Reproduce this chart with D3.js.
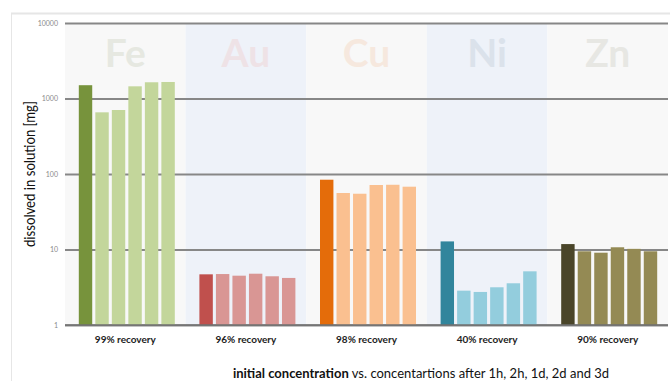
<!DOCTYPE html>
<html>
<head>
<meta charset="utf-8">
<script src="https://cdn.jsdelivr.net/npm/d3@7"></script>
<style>
  html, body { margin: 0; padding: 0; background: #fff; }
  svg { display: block; }
  text { font-family: Lato, "Open Sans", sans-serif; }
</style>
</head>
<body>
<svg id="chart" width="670" height="381"></svg>
<script>
// Metals and their recovery labels
const metals = ["Fe", "Au", "Cu", "Ni", "Zn"];
const recovery = ["99% recovery", "96% recovery", "98% recovery", "40% recovery", "90% recovery"];

// Sampling points: initial concentration, then 1h, 2h, 1d, 2d, 3d
const samples = ["initial", "1h", "2h", "1d", "2d", "3d"];

// Dissolved amount in solution [mg] per metal, in sample order
const feValues = [1500, 656, 704, 1450, 1640, 1655];
const auValues = [4.69, 4.73, 4.5, 4.78, 4.42, 4.2];
const cuValues = [84, 56, 54.8, 71.5, 72, 67.9];
const niValues = [12.8, 2.85, 2.74, 3.16, 3.57, 5.14];
const znValues = [11.8, 9.47, 9.07, 10.7, 10.2, 9.47];

// Y axis ticks
const yTicks = [1, 10, 100, 1000, 10000];

const seriesByMetal = { Fe: feValues, Au: auValues, Cu: cuValues, Ni: niValues, Zn: znValues };

const darkColor  = { Fe: "#77933c", Au: "#c0504d", Cu: "#e46c0a", Ni: "#31859c", Zn: "#4a4529" };
const lightColor = { Fe: "#c3d69b", Au: "#d99694", Cu: "#fac090", Ni: "#93cddd", Zn: "#948a54" };
const letterColor = { Fe: "#e6e8e1", Au: "#eee2e6", Cu: "#f6e8de", Ni: "#dbe2eb", Zn: "#e7e7e3" };
const bandColor = ["#f8f8f8", "#eef2f9"];

const svg = d3.select("#chart");
const W = 670, H = 381;
const m = { left: 65, right: 2, top: 23, bottom: 56 };

// Frame lines
svg.append("line").attr("x1", 11).attr("x2", W).attr("y1", 13.5).attr("y2", 13.5)
  .attr("stroke", "#e6e6e6").attr("stroke-width", 2);
svg.append("line").attr("x1", 11.5).attr("x2", 11.5).attr("y1", 13).attr("y2", H)
  .attr("stroke", "#e6e6e6").attr("stroke-width", 1);

const x = d3.scaleBand().domain(metals).range([m.left, W - m.right]).padding(0);
const y = d3.scaleLog().domain([1, 10000]).range([H - m.bottom, m.top]);

const step = 16, barW = 13;
const groupW = step * (samples.length - 1) + barW;
const xi = d3.scaleBand().domain(samples).range([0, groupW + (step - barW)]).paddingInner((step - barW) / step).paddingOuter(0);

// Alternating background bands
svg.append("g").selectAll("rect").data(metals).join("rect")
  .attr("x", d => x(d)).attr("width", x.bandwidth())
  .attr("y", y(10000)).attr("height", y(1) - y(10000))
  .attr("fill", (d, i) => bandColor[i % 2]);

// Large faded metal symbols
svg.append("g").selectAll("text").data(metals).join("text")
  .attr("x", d => x(d) + x.bandwidth() / 2)
  .attr("y", 67)
  .attr("text-anchor", "middle")
  .attr("font-size", 39).attr("font-weight", 700)
  .attr("fill", d => letterColor[d])
  .text(d => d);

// Gridlines and tick labels
const yAxis = d3.axisLeft(y).tickValues(yTicks).tickFormat(d3.format("d"))
  .tickSize(-(W - m.right - m.left)).tickPadding(7);
const gy = svg.append("g").attr("transform", `translate(${m.left},0)`).call(yAxis);
gy.select(".domain").remove();
gy.selectAll(".tick line").attr("stroke", "#878787").attr("stroke-width", 2);
gy.selectAll(".tick text").attr("fill", "#8a8a8a").attr("font-size", 7)
  .attr("font-family", "Liberation Serif, serif");

// Bars
const groups = svg.append("g").selectAll("g").data(metals).join("g")
  .attr("transform", d => `translate(${x(d) + (x.bandwidth() - groupW) / 2},0)`);
groups.selectAll("rect")
  .data(d => seriesByMetal[d].map((v, i) => ({ metal: d, sample: samples[i], value: v, i })))
  .join("rect")
  .attr("x", d => xi(d.sample))
  .attr("width", xi.bandwidth())
  .attr("y", d => y(d.value))
  .attr("height", d => y(1) - y(d.value))
  .attr("fill", d => d.i === 0 ? darkColor[d.metal] : lightColor[d.metal]);

// Baseline redrawn over bars
svg.append("line").attr("x1", m.left).attr("x2", W - m.right).attr("y1", y(1)).attr("y2", y(1))
  .attr("stroke", "#6f6f6f").attr("stroke-width", 1.5);

// Recovery labels under each group
svg.append("g").selectAll("text").data(metals).join("text")
  .attr("x", d => x(d) + x.bandwidth() / 2)
  .attr("y", 342.5)
  .attr("text-anchor", "middle")
  .attr("font-size", 10).attr("font-weight", 700).attr("fill", "#222")
  .text((d, i) => recovery[i]);

// Y axis title
svg.append("text")
  .attr("transform", `translate(35,174) rotate(-90)`)
  .attr("text-anchor", "middle")
  .attr("font-size", 15).attr("fill", "#111")
  .attr("textLength", 146).attr("lengthAdjust", "spacingAndGlyphs")
  .text("dissolved in solution [mg]");

// X axis title
const xt = svg.append("text")
  .attr("x", 421).attr("y", 377.5)
  .attr("text-anchor", "middle")
  .attr("font-size", 13).attr("fill", "#111");
xt.append("tspan").attr("font-weight", 700).text("initial concentration");
xt.append("tspan").text(" vs. concentartions after 1h, 2h, 1d, 2d and 3d");
</script>
</body>
</html>
